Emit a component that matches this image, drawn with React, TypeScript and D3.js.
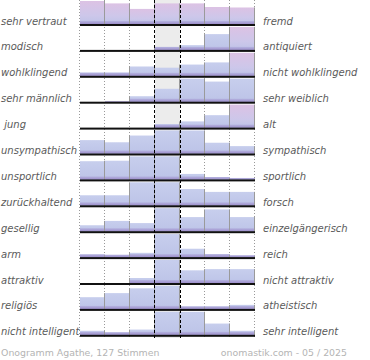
import React from 'react';
import * as d3 from 'd3';

const leftLabels = ['sehr vertraut', 'modisch', 'wohlklingend', 'sehr männlich', ' jung', 'unsympathisch', 'unsportlich', 'zurückhaltend', 'gesellig', 'arm', 'attraktiv', 'religiös', 'nicht intelligent'];
const rightLabels = ['fremd', 'antiquiert', 'nicht wohlklingend', 'sehr weiblich', 'alt', 'sympathisch', 'sportlich', 'forsch', 'einzelgängerisch', 'reich', 'nicht attraktiv', 'atheistisch', 'sehr intelligent'];
const scaleSteps = [1, 2, 3, 4, 5, 6, 7];
const shares: number[][] = [
  [100, 90, 67, 90, 90, 75, 73],
  [0, 0, 0, 15, 24, 70, 100],
  [18, 18, 43, 38, 51, 60, 100],
  [0, 3, 27, 58, 100, 88, 100],
  [0, 0, 0, 19, 30, 56, 100],
  [60, 51, 79, 100, 100, 49, 35],
  [80, 82, 100, 100, 27, 10, 6],
  [46, 46, 100, 100, 72, 60, 60],
  [29, 47, 38, 100, 63, 95, 63],
  [12, 10, 22, 100, 39, 14, 8],
  [0, 0, 25, 100, 57, 62, 62],
  [53, 70, 90, 100, 11, 11, 21],
  [21, 11, 26, 100, 100, 51, 21],
];
const pinkBars: [number, number][] = [[0, 0], [0, 1], [0, 2], [0, 3], [0, 4], [0, 5], [0, 6], [1, 6], [2, 6], [4, 6]];
const footerLeft = 'Onogramm Agathe, 127 Stimmen';
const footerRight = 'onomastik.com - 05 / 2025';

export default function App() {
  const W = 370, H = 360;
  const x = d3.scaleBand<number>().domain(scaleSteps).range([80, 255]).padding(0);
  const rowY = d3.scaleLinear().domain([0, leftLabels.length - 1]).range([25, 335.8]);
  const h = d3.scaleLinear().domain([0, 100]).range([0, 24]);
  const bw = x.bandwidth();
  const top = 0, bottom = 338;
  const isPink = (r: number, c: number) => pinkBars.some(([a, b]) => a === r && b === c);
  const dotted = [0, 1, 2, 5, 6].map(i => x(scaleSteps[i])!).concat([x(7)! + bw]);
  const dashed = [x(4)!, x(4)! + bw];
  const font = 'DejaVu Sans, Verdana, sans-serif';

  return (
    <svg width={W} height={H} style={{ position: 'absolute', left: 0, top: 0, background: '#fff' }}>
      <defs>
        <linearGradient id="gBlue" x1="0" y1="0" x2="0" y2="1">
          <stop offset="0" stopColor="#c7ceed" />
          <stop offset="1" stopColor="#bcc3e7" />
        </linearGradient>
        <linearGradient id="gPink" x1="0" y1="0" x2="0" y2="1">
          <stop offset="0" stopColor="#dcc2e4" />
          <stop offset="0.6" stopColor="#cdc7ea" />
          <stop offset="1" stopColor="#bcc3e7" />
        </linearGradient>
        <linearGradient id="gStrip" x1="0" y1="0" x2="0" y2="1">
          <stop offset="0" stopColor="#b5b4e0" />
          <stop offset="1" stopColor="#9d8ecb" />
        </linearGradient>
      </defs>
      <rect x={dashed[0]} y={top} width={bw} height={bottom - top} fill="#ececec" />
      {dotted.map((d, i) => (
        <line key={'dt' + i} x1={d - 0.5} x2={d - 0.5} y1={top} y2={bottom} stroke="#999" strokeWidth={1} strokeDasharray="1,2" />
      ))}
      {shares.map((row, r) => {
        const base = rowY(r);
        return (
          <g key={'row' + r}>
            {row.map((v, c) => {
              const bh = h(v);
              if (bh <= 0) return null;
              const x0 = x(scaleSteps[c])!;
              const sh = Math.min(3, bh);
              return (
                <g key={'b' + c}>
                  <rect x={x0} y={base - bh} width={bw} height={bh} fill={isPink(r, c) ? 'url(#gPink)' : 'url(#gBlue)'} />
                  <rect x={x0} y={base - 1 - sh} width={bw} height={sh} fill="url(#gStrip)" />
                </g>
              );
            })}
            {scaleSteps.map((s, c) => {
              const right = x(s)! + bw;
              const hh = Math.max(h(row[c]), c < row.length - 1 ? h(row[c + 1]) : 0);
              if (hh <= 0) return null;
              return <line key={'e' + c} x1={right - 0.5} x2={right - 0.5} y1={base - hh} y2={base} stroke="#9a9a9a" strokeWidth={1} />;
            })}
            <rect x={80} y={base - 1} width={175} height={2} fill="#111" />
            <text x={1} y={base - 0.5} fontFamily={font} fontStyle="italic" fontSize={10} fill="#5a5a5a" style={{ whiteSpace: 'pre' }}>{leftLabels[r]}</text>
            <text x={263} y={base - 0.5} fontFamily={font} fontStyle="italic" fontSize={10} fill="#5a5a5a">{rightLabels[r]}</text>
          </g>
        );
      })}
      {dashed.map((d, i) => (
        <line key={'ds' + i} x1={d - 0.5 + i} x2={d - 0.5 + i} y1={top} y2={bottom} stroke="#000" strokeWidth={1} strokeDasharray="3,2" />
      ))}
      <text x={1} y={356} fontFamily={font} fontSize={9.4} fill="#b4b4b4">{footerLeft}</text>
      <text x={347} y={356} textAnchor="end" fontFamily={font} fontSize={9.4} fill="#b4b4b4">{footerRight}</text>
    </svg>
  );
}
